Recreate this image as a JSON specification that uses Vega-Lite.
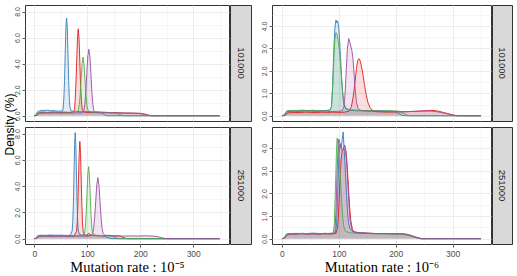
{
  "$schema": "https://vega.github.io/schema/vega-lite/v6.json",
  "padding": {"left": 3, "top": 4, "right": 0, "bottom": 0},
  "background": "white",
  "config": {
    "view": {"stroke": "#333333", "strokeWidth": 1},
    "axis": {
      "domain": false,
      "labelFont": "Liberation Sans",
      "labelColor": "#4d4d4d",
      "tickColor": "#333333",
      "tickSize": 3,
      "tickWidth": 0.8,
      "labelPadding": 2,
      "gridColor": "#ebebeb",
      "titleFontWeight": "normal",
      "titleColor": "#000000"
    }
  },
  "datasets": {
    "TL": [
      {"s":"A","x":0,"y":0},{"s":"A","x":4,"y":0.03},{"s":"A","x":8,"y":0.22},{"s":"A","x":15,"y":0.26},{"s":"A","x":25,"y":0.24},{"s":"A","x":35,"y":0.27},{"s":"A","x":45,"y":0.25},{"s":"A","x":55,"y":0.26},{"s":"A","x":65,"y":0.24},{"s":"A","x":72,"y":0.26},{"s":"A","x":76,"y":0.45},{"s":"A","x":77,"y":1.1},{"s":"A","x":78.5,"y":2.3},{"s":"A","x":80,"y":4.1},{"s":"A","x":81.5,"y":5.9},{"s":"A","x":83,"y":6.67},{"s":"A","x":84.5,"y":5.9},{"s":"A","x":86,"y":4.1},{"s":"A","x":87.5,"y":2.3},{"s":"A","x":89,"y":1.1},{"s":"A","x":90.5,"y":0.5},{"s":"A","x":93,"y":0.28},{"s":"A","x":100,"y":0.25},{"s":"A","x":110,"y":0.24},{"s":"A","x":125,"y":0.26},{"s":"A","x":140,"y":0.22},{"s":"A","x":155,"y":0.24},{"s":"A","x":170,"y":0.2},{"s":"A","x":185,"y":0.2},{"s":"A","x":200,"y":0.16},{"s":"A","x":208,"y":0.1},{"s":"A","x":215,"y":0.02},{"s":"A","x":220,"y":0},{"s":"A","x":350,"y":0},
      {"s":"B","x":0,"y":0},{"s":"B","x":3,"y":0.05},{"s":"B","x":6,"y":0.3},{"s":"B","x":10,"y":0.38},{"s":"B","x":15,"y":0.42},{"s":"B","x":20,"y":0.4},{"s":"B","x":25,"y":0.43},{"s":"B","x":30,"y":0.38},{"s":"B","x":35,"y":0.4},{"s":"B","x":40,"y":0.37},{"s":"B","x":45,"y":0.36},{"s":"B","x":50,"y":0.35},{"s":"B","x":54,"y":0.4},{"s":"B","x":55.8,"y":1.3},{"s":"B","x":57.1,"y":2.7},{"s":"B","x":58.4,"y":4.8},{"s":"B","x":59.7,"y":6.8},{"s":"B","x":61,"y":7.5},{"s":"B","x":62.3,"y":6.8},{"s":"B","x":63.6,"y":4.8},{"s":"B","x":64.9,"y":2.7},{"s":"B","x":66.2,"y":1.3},{"s":"B","x":67.5,"y":0.6},{"s":"B","x":69,"y":0.4},{"s":"B","x":72,"y":0.35},{"s":"B","x":80,"y":0.33},{"s":"B","x":90,"y":0.3},{"s":"B","x":100,"y":0.32},{"s":"B","x":110,"y":0.28},{"s":"B","x":120,"y":0.3},{"s":"B","x":127,"y":0.25},{"s":"B","x":132,"y":0.08},{"s":"B","x":136,"y":0},{"s":"B","x":350,"y":0},
      {"s":"C","x":0,"y":0},{"s":"C","x":4,"y":0.04},{"s":"C","x":7,"y":0.25},{"s":"C","x":15,"y":0.3},{"s":"C","x":25,"y":0.27},{"s":"C","x":35,"y":0.3},{"s":"C","x":45,"y":0.28},{"s":"C","x":55,"y":0.29},{"s":"C","x":65,"y":0.27},{"s":"C","x":75,"y":0.3},{"s":"C","x":82,"y":0.3},{"s":"C","x":83.3,"y":0.48},{"s":"C","x":85,"y":0.87},{"s":"C","x":86.8,"y":1.67},{"s":"C","x":88.5,"y":2.85},{"s":"C","x":90.3,"y":4.0},{"s":"C","x":92,"y":4.5},{"s":"C","x":93.8,"y":4.0},{"s":"C","x":95.5,"y":2.85},{"s":"C","x":97.3,"y":1.67},{"s":"C","x":99,"y":0.87},{"s":"C","x":100.8,"y":0.48},{"s":"C","x":103,"y":0.32},{"s":"C","x":110,"y":0.3},{"s":"C","x":120,"y":0.27},{"s":"C","x":130,"y":0.28},{"s":"C","x":140,"y":0.25},{"s":"C","x":150,"y":0.22},{"s":"C","x":158,"y":0.15},{"s":"C","x":165,"y":0.04},{"s":"C","x":170,"y":0},{"s":"C","x":350,"y":0},
      {"s":"D","x":0,"y":0},{"s":"D","x":5,"y":0.02},{"s":"D","x":10,"y":0.18},{"s":"D","x":20,"y":0.21},{"s":"D","x":30,"y":0.2},{"s":"D","x":40,"y":0.22},{"s":"D","x":50,"y":0.2},{"s":"D","x":60,"y":0.21},{"s":"D","x":70,"y":0.2},{"s":"D","x":80,"y":0.22},{"s":"D","x":90,"y":0.23},{"s":"D","x":93.5,"y":0.38},{"s":"D","x":95.4,"y":0.86},{"s":"D","x":97.3,"y":1.8},{"s":"D","x":99.2,"y":3.3},{"s":"D","x":101.1,"y":4.6},{"s":"D","x":103,"y":5.1},{"s":"D","x":104.9,"y":4.6},{"s":"D","x":106.8,"y":3.3},{"s":"D","x":108.7,"y":1.8},{"s":"D","x":110.6,"y":0.86},{"s":"D","x":112.5,"y":0.38},{"s":"D","x":116,"y":0.24},{"s":"D","x":125,"y":0.22},{"s":"D","x":140,"y":0.23},{"s":"D","x":155,"y":0.22},{"s":"D","x":170,"y":0.21},{"s":"D","x":185,"y":0.2},{"s":"D","x":200,"y":0.19},{"s":"D","x":208,"y":0.14},{"s":"D","x":215,"y":0.06},{"s":"D","x":222,"y":0},{"s":"D","x":350,"y":0}
    ],
    "BL": [
      {"s":"A","x":0,"y":0},{"s":"A","x":4,"y":0.03},{"s":"A","x":8,"y":0.2},{"s":"A","x":15,"y":0.22},{"s":"A","x":25,"y":0.24},{"s":"A","x":35,"y":0.2},{"s":"A","x":45,"y":0.23},{"s":"A","x":55,"y":0.22},{"s":"A","x":65,"y":0.21},{"s":"A","x":75,"y":0.23},{"s":"A","x":79.8,"y":0.55},{"s":"A","x":81,"y":1.2},{"s":"A","x":82.3,"y":2.6},{"s":"A","x":83.5,"y":4.6},{"s":"A","x":84.8,"y":6.55},{"s":"A","x":86,"y":7.4},{"s":"A","x":87.3,"y":6.55},{"s":"A","x":88.5,"y":4.6},{"s":"A","x":89.8,"y":2.6},{"s":"A","x":91,"y":1.2},{"s":"A","x":92.3,"y":0.55},{"s":"A","x":95,"y":0.3},{"s":"A","x":98,"y":0.25},{"s":"A","x":103,"y":0.4},{"s":"A","x":108,"y":0.25},{"s":"A","x":120,"y":0.22},{"s":"A","x":135,"y":0.24},{"s":"A","x":150,"y":0.2},{"s":"A","x":160,"y":0.22},{"s":"A","x":165,"y":0.15},{"s":"A","x":172,"y":0.03},{"s":"A","x":176,"y":0},{"s":"A","x":350,"y":0},
      {"s":"B","x":0,"y":0},{"s":"B","x":3,"y":0.03},{"s":"B","x":6,"y":0.22},{"s":"B","x":12,"y":0.27},{"s":"B","x":20,"y":0.25},{"s":"B","x":30,"y":0.28},{"s":"B","x":40,"y":0.26},{"s":"B","x":50,"y":0.27},{"s":"B","x":60,"y":0.25},{"s":"B","x":68,"y":0.26},{"s":"B","x":71.5,"y":0.6},{"s":"B","x":72.7,"y":1.3},{"s":"B","x":73.9,"y":2.8},{"s":"B","x":75,"y":5.0},{"s":"B","x":76.2,"y":7.15},{"s":"B","x":77.3,"y":8.08},{"s":"B","x":78.4,"y":7.15},{"s":"B","x":79.6,"y":5.0},{"s":"B","x":80.8,"y":2.8},{"s":"B","x":81.9,"y":1.3},{"s":"B","x":83,"y":0.6},{"s":"B","x":86,"y":0.3},{"s":"B","x":95,"y":0.26},{"s":"B","x":105,"y":0.24},{"s":"B","x":115,"y":0.25},{"s":"B","x":125,"y":0.22},{"s":"B","x":133,"y":0.18},{"s":"B","x":140,"y":0.06},{"s":"B","x":145,"y":0},{"s":"B","x":350,"y":0},
      {"s":"C","x":0,"y":0},{"s":"C","x":4,"y":0.03},{"s":"C","x":8,"y":0.2},{"s":"C","x":15,"y":0.23},{"s":"C","x":25,"y":0.21},{"s":"C","x":35,"y":0.24},{"s":"C","x":45,"y":0.22},{"s":"C","x":55,"y":0.23},{"s":"C","x":65,"y":0.21},{"s":"C","x":75,"y":0.22},{"s":"C","x":85,"y":0.24},{"s":"C","x":92,"y":0.25},{"s":"C","x":95,"y":0.45},{"s":"C","x":96.5,"y":0.93},{"s":"C","x":98,"y":1.93},{"s":"C","x":99.5,"y":3.41},{"s":"C","x":101,"y":4.86},{"s":"C","x":102.5,"y":5.48},{"s":"C","x":104,"y":4.86},{"s":"C","x":105.5,"y":3.41},{"s":"C","x":107,"y":1.93},{"s":"C","x":108.5,"y":0.93},{"s":"C","x":110,"y":0.45},{"s":"C","x":113,"y":0.28},{"s":"C","x":120,"y":0.25},{"s":"C","x":130,"y":0.24},{"s":"C","x":140,"y":0.22},{"s":"C","x":148,"y":0.18},{"s":"C","x":155,"y":0.05},{"s":"C","x":160,"y":0},{"s":"C","x":350,"y":0},
      {"s":"D","x":0,"y":0},{"s":"D","x":5,"y":0.02},{"s":"D","x":10,"y":0.17},{"s":"D","x":20,"y":0.19},{"s":"D","x":30,"y":0.18},{"s":"D","x":40,"y":0.2},{"s":"D","x":50,"y":0.18},{"s":"D","x":60,"y":0.19},{"s":"D","x":70,"y":0.18},{"s":"D","x":80,"y":0.2},{"s":"D","x":90,"y":0.19},{"s":"D","x":100,"y":0.2},{"s":"D","x":106,"y":0.22},{"s":"D","x":110,"y":0.38},{"s":"D","x":112,"y":0.78},{"s":"D","x":114,"y":1.63},{"s":"D","x":116,"y":2.89},{"s":"D","x":118,"y":4.11},{"s":"D","x":120,"y":4.64},{"s":"D","x":122,"y":4.11},{"s":"D","x":124,"y":2.89},{"s":"D","x":126,"y":1.63},{"s":"D","x":128,"y":0.78},{"s":"D","x":130,"y":0.38},{"s":"D","x":134,"y":0.25},{"s":"D","x":140,"y":0.26},{"s":"D","x":150,"y":0.22},{"s":"D","x":165,"y":0.2},{"s":"D","x":180,"y":0.21},{"s":"D","x":195,"y":0.2},{"s":"D","x":210,"y":0.22},{"s":"D","x":222,"y":0.2},{"s":"D","x":232,"y":0.16},{"s":"D","x":240,"y":0.08},{"s":"D","x":248,"y":0.01},{"s":"D","x":252,"y":0},{"s":"D","x":350,"y":0}
    ],
    "TR": [
      {"s":"A","x":0,"y":0},{"s":"A","x":5,"y":0.01},{"s":"A","x":10,"y":0.12},{"s":"A","x":20,"y":0.15},{"s":"A","x":30,"y":0.14},{"s":"A","x":40,"y":0.16},{"s":"A","x":50,"y":0.15},{"s":"A","x":60,"y":0.14},{"s":"A","x":70,"y":0.16},{"s":"A","x":80,"y":0.15},{"s":"A","x":90,"y":0.16},{"s":"A","x":100,"y":0.15},{"s":"A","x":110,"y":0.16},{"s":"A","x":118,"y":0.2},{"s":"A","x":122,"y":0.4},{"s":"A","x":125,"y":0.8},{"s":"A","x":128,"y":1.4},{"s":"A","x":131,"y":2.1},{"s":"A","x":133,"y":2.45},{"s":"A","x":135,"y":2.54},{"s":"A","x":137,"y":2.48},{"s":"A","x":139,"y":2.3},{"s":"A","x":142,"y":1.9},{"s":"A","x":145,"y":1.4},{"s":"A","x":148,"y":0.95},{"s":"A","x":151,"y":0.6},{"s":"A","x":155,"y":0.35},{"s":"A","x":160,"y":0.22},{"s":"A","x":165,"y":0.18},{"s":"A","x":175,"y":0.17},{"s":"A","x":190,"y":0.16},{"s":"A","x":205,"y":0.17},{"s":"A","x":220,"y":0.18},{"s":"A","x":235,"y":0.2},{"s":"A","x":250,"y":0.22},{"s":"A","x":262,"y":0.24},{"s":"A","x":272,"y":0.22},{"s":"A","x":282,"y":0.16},{"s":"A","x":292,"y":0.09},{"s":"A","x":300,"y":0.04},{"s":"A","x":308,"y":0},{"s":"A","x":350,"y":0},
      {"s":"B","x":0,"y":0},{"s":"B","x":4,"y":0.03},{"s":"B","x":8,"y":0.2},{"s":"B","x":15,"y":0.23},{"s":"B","x":25,"y":0.22},{"s":"B","x":35,"y":0.25},{"s":"B","x":45,"y":0.23},{"s":"B","x":55,"y":0.24},{"s":"B","x":65,"y":0.22},{"s":"B","x":75,"y":0.23},{"s":"B","x":84,"y":0.24},{"s":"B","x":87,"y":0.4},{"s":"B","x":89,"y":1.3},{"s":"B","x":91,"y":2.8},{"s":"B","x":93,"y":3.9},{"s":"B","x":95,"y":4.27},{"s":"B","x":96.5,"y":4.15},{"s":"B","x":98,"y":4.22},{"s":"B","x":99.5,"y":4.0},{"s":"B","x":101,"y":3.5},{"s":"B","x":103,"y":2.6},{"s":"B","x":105,"y":1.6},{"s":"B","x":107,"y":0.9},{"s":"B","x":109,"y":0.5},{"s":"B","x":112,"y":0.3},{"s":"B","x":118,"y":0.25},{"s":"B","x":130,"y":0.22},{"s":"B","x":145,"y":0.23},{"s":"B","x":160,"y":0.21},{"s":"B","x":175,"y":0.22},{"s":"B","x":190,"y":0.2},{"s":"B","x":200,"y":0.18},{"s":"B","x":206,"y":0.1},{"s":"B","x":211,"y":0.02},{"s":"B","x":215,"y":0},{"s":"B","x":350,"y":0},
      {"s":"C","x":0,"y":0},{"s":"C","x":4,"y":0.03},{"s":"C","x":8,"y":0.2},{"s":"C","x":15,"y":0.22},{"s":"C","x":25,"y":0.24},{"s":"C","x":35,"y":0.22},{"s":"C","x":45,"y":0.23},{"s":"C","x":55,"y":0.24},{"s":"C","x":65,"y":0.22},{"s":"C","x":75,"y":0.23},{"s":"C","x":84,"y":0.25},{"s":"C","x":87,"y":0.4},{"s":"C","x":89,"y":1.2},{"s":"C","x":91,"y":2.4},{"s":"C","x":93,"y":3.4},{"s":"C","x":95,"y":3.7},{"s":"C","x":97,"y":3.6},{"s":"C","x":99,"y":3.3},{"s":"C","x":101,"y":2.9},{"s":"C","x":103,"y":2.3},{"s":"C","x":105,"y":1.6},{"s":"C","x":107,"y":1.0},{"s":"C","x":109,"y":0.55},{"s":"C","x":112,"y":0.35},{"s":"C","x":118,"y":0.28},{"s":"C","x":130,"y":0.25},{"s":"C","x":145,"y":0.22},{"s":"C","x":160,"y":0.24},{"s":"C","x":175,"y":0.21},{"s":"C","x":190,"y":0.22},{"s":"C","x":205,"y":0.2},{"s":"C","x":213,"y":0.12},{"s":"C","x":220,"y":0.03},{"s":"C","x":224,"y":0},{"s":"C","x":350,"y":0},
      {"s":"D","x":0,"y":0},{"s":"D","x":5,"y":0.02},{"s":"D","x":10,"y":0.18},{"s":"D","x":20,"y":0.2},{"s":"D","x":30,"y":0.19},{"s":"D","x":40,"y":0.21},{"s":"D","x":50,"y":0.2},{"s":"D","x":60,"y":0.19},{"s":"D","x":70,"y":0.21},{"s":"D","x":80,"y":0.2},{"s":"D","x":90,"y":0.19},{"s":"D","x":100,"y":0.2},{"s":"D","x":106,"y":0.22},{"s":"D","x":109,"y":0.4},{"s":"D","x":111,"y":1.0},{"s":"D","x":113,"y":2.0},{"s":"D","x":115,"y":3.0},{"s":"D","x":117.5,"y":3.44},{"s":"D","x":119,"y":3.3},{"s":"D","x":121,"y":3.1},{"s":"D","x":123,"y":2.9},{"s":"D","x":125,"y":2.5},{"s":"D","x":127,"y":1.8},{"s":"D","x":129,"y":1.1},{"s":"D","x":131,"y":0.6},{"s":"D","x":134,"y":0.3},{"s":"D","x":140,"y":0.22},{"s":"D","x":155,"y":0.2},{"s":"D","x":170,"y":0.21},{"s":"D","x":185,"y":0.19},{"s":"D","x":200,"y":0.2},{"s":"D","x":215,"y":0.18},{"s":"D","x":230,"y":0.19},{"s":"D","x":245,"y":0.2},{"s":"D","x":260,"y":0.21},{"s":"D","x":272,"y":0.18},{"s":"D","x":285,"y":0.12},{"s":"D","x":295,"y":0.06},{"s":"D","x":303,"y":0.01},{"s":"D","x":308,"y":0},{"s":"D","x":350,"y":0}
    ],
    "BR": [
      {"s":"A","x":0,"y":0},{"s":"A","x":4,"y":0.02},{"s":"A","x":8,"y":0.18},{"s":"A","x":15,"y":0.21},{"s":"A","x":25,"y":0.2},{"s":"A","x":35,"y":0.23},{"s":"A","x":45,"y":0.21},{"s":"A","x":55,"y":0.22},{"s":"A","x":65,"y":0.2},{"s":"A","x":75,"y":0.22},{"s":"A","x":85,"y":0.21},{"s":"A","x":95,"y":0.23},{"s":"A","x":98,"y":0.5},{"s":"A","x":100,"y":1.4},{"s":"A","x":102,"y":2.6},{"s":"A","x":104,"y":3.5},{"s":"A","x":106,"y":3.9},{"s":"A","x":108,"y":4.0},{"s":"A","x":110.5,"y":4.13},{"s":"A","x":113,"y":3.8},{"s":"A","x":115,"y":3.1},{"s":"A","x":117,"y":2.2},{"s":"A","x":119,"y":1.4},{"s":"A","x":121,"y":0.8},{"s":"A","x":124,"y":0.4},{"s":"A","x":128,"y":0.3},{"s":"A","x":135,"y":0.27},{"s":"A","x":150,"y":0.25},{"s":"A","x":165,"y":0.23},{"s":"A","x":180,"y":0.22},{"s":"A","x":195,"y":0.23},{"s":"A","x":210,"y":0.21},{"s":"A","x":222,"y":0.17},{"s":"A","x":232,"y":0.09},{"s":"A","x":240,"y":0.03},{"s":"A","x":246,"y":0},{"s":"A","x":350,"y":0},
      {"s":"B","x":0,"y":0},{"s":"B","x":4,"y":0.03},{"s":"B","x":8,"y":0.2},{"s":"B","x":15,"y":0.23},{"s":"B","x":25,"y":0.21},{"s":"B","x":35,"y":0.24},{"s":"B","x":45,"y":0.22},{"s":"B","x":55,"y":0.23},{"s":"B","x":65,"y":0.21},{"s":"B","x":75,"y":0.24},{"s":"B","x":85,"y":0.22},{"s":"B","x":94,"y":0.25},{"s":"B","x":96,"y":0.6},{"s":"B","x":98,"y":2.0},{"s":"B","x":100,"y":3.6},{"s":"B","x":102,"y":4.2},{"s":"B","x":104,"y":4.0},{"s":"B","x":106,"y":4.4},{"s":"B","x":107.6,"y":4.72},{"s":"B","x":109,"y":4.1},{"s":"B","x":111,"y":3.2},{"s":"B","x":113,"y":2.2},{"s":"B","x":115,"y":1.3},{"s":"B","x":117,"y":0.7},{"s":"B","x":120,"y":0.4},{"s":"B","x":125,"y":0.3},{"s":"B","x":135,"y":0.25},{"s":"B","x":150,"y":0.24},{"s":"B","x":165,"y":0.22},{"s":"B","x":180,"y":0.23},{"s":"B","x":195,"y":0.21},{"s":"B","x":210,"y":0.22},{"s":"B","x":220,"y":0.18},{"s":"B","x":230,"y":0.1},{"s":"B","x":238,"y":0.03},{"s":"B","x":243,"y":0},{"s":"B","x":350,"y":0},
      {"s":"C","x":0,"y":0},{"s":"C","x":4,"y":0.03},{"s":"C","x":8,"y":0.2},{"s":"C","x":15,"y":0.22},{"s":"C","x":25,"y":0.24},{"s":"C","x":35,"y":0.22},{"s":"C","x":45,"y":0.23},{"s":"C","x":55,"y":0.25},{"s":"C","x":65,"y":0.23},{"s":"C","x":75,"y":0.22},{"s":"C","x":85,"y":0.24},{"s":"C","x":90,"y":0.26},{"s":"C","x":92,"y":0.6},{"s":"C","x":94,"y":2.2},{"s":"C","x":96,"y":4.0},{"s":"C","x":97,"y":4.44},{"s":"C","x":99,"y":4.1},{"s":"C","x":101,"y":3.5},{"s":"C","x":103,"y":2.6},{"s":"C","x":105,"y":1.6},{"s":"C","x":107,"y":0.9},{"s":"C","x":109,"y":0.5},{"s":"C","x":112,"y":0.32},{"s":"C","x":120,"y":0.26},{"s":"C","x":135,"y":0.24},{"s":"C","x":150,"y":0.23},{"s":"C","x":165,"y":0.22},{"s":"C","x":180,"y":0.21},{"s":"C","x":195,"y":0.22},{"s":"C","x":210,"y":0.2},{"s":"C","x":222,"y":0.15},{"s":"C","x":232,"y":0.07},{"s":"C","x":240,"y":0.02},{"s":"C","x":244,"y":0},{"s":"C","x":350,"y":0},
      {"s":"D","x":0,"y":0},{"s":"D","x":5,"y":0.02},{"s":"D","x":10,"y":0.18},{"s":"D","x":20,"y":0.2},{"s":"D","x":30,"y":0.22},{"s":"D","x":40,"y":0.2},{"s":"D","x":50,"y":0.21},{"s":"D","x":60,"y":0.2},{"s":"D","x":70,"y":0.22},{"s":"D","x":80,"y":0.21},{"s":"D","x":90,"y":0.22},{"s":"D","x":93,"y":0.3},{"s":"D","x":95,"y":1.2},{"s":"D","x":97,"y":3.0},{"s":"D","x":99,"y":4.2},{"s":"D","x":100,"y":4.4},{"s":"D","x":102,"y":4.2},{"s":"D","x":104,"y":4.0},{"s":"D","x":106,"y":3.9},{"s":"D","x":108,"y":3.95},{"s":"D","x":110,"y":3.9},{"s":"D","x":112,"y":3.85},{"s":"D","x":114,"y":3.3},{"s":"D","x":116,"y":2.4},{"s":"D","x":118,"y":1.5},{"s":"D","x":120,"y":0.8},{"s":"D","x":123,"y":0.4},{"s":"D","x":127,"y":0.28},{"s":"D","x":135,"y":0.25},{"s":"D","x":150,"y":0.23},{"s":"D","x":165,"y":0.22},{"s":"D","x":180,"y":0.23},{"s":"D","x":195,"y":0.21},{"s":"D","x":210,"y":0.22},{"s":"D","x":220,"y":0.2},{"s":"D","x":230,"y":0.12},{"s":"D","x":238,"y":0.05},{"s":"D","x":245,"y":0},{"s":"D","x":350,"y":0}
    ]
  },
  "hconcat": [
    {
      "hconcat": [
        {
          "width": 14, "height": 239,
          "view": {"stroke": null},
          "data": {"values": [{"t": "Density (%)"}]},
          "mark": {"type": "text", "angle": 270, "font": "Liberation Sans", "fontSize": 12, "color": "#000000"},
          "encoding": {"text": {"field": "t"}}
        },
        {
          "vconcat": [
            {
              "hconcat": [
                {
                  "width": 204, "height": 116,
                  "data": {"name": "TL"},
                  "encoding": {
                    "x": {"field": "x", "type": "quantitative", "scale": {"domain": [-17.5, 367.5], "nice": false, "zero": false},
                      "axis": {"values": [0, 50, 100, 150, 200, 250, 300, 350], "labels": false, "ticks": false, "title": null,
                        "gridWidth": {"condition": {"test": "datum.value % 100 === 0", "value": 0.9}, "value": 0.45}}},
                    "y": {"field": "y", "type": "quantitative", "stack": null, "scale": {"domain": [-0.405, 8.5], "nice": false, "zero": false},
                      "axis": {"values": [0, 1, 2, 3, 4, 5, 6, 7, 8], "labelAngle": 270, "labelFontSize": 7,
                        "labelExpr": "datum.value % 2 === 0 ? format(datum.value, '.1f') : ''",
                        "tickOpacity": {"condition": {"test": "datum.value % 2 === 0", "value": 1}, "value": 0},
                        "gridWidth": {"condition": {"test": "datum.value % 2 === 0", "value": 0.9}, "value": 0.45},
                        "title": null}},
                    "color": {"field": "s", "type": "nominal", "legend": null,
                      "scale": {"domain": ["A", "B", "C", "D"], "range": ["#E41A1C", "#377EB8", "#4DAF4A", "#984EA3"]}}
                  },
                  "layer": [
                    {"mark": {"type": "area", "opacity": 0.15}},
                    {"mark": {"type": "line", "strokeWidth": 0.9}}
                  ]
                },
                {
                  "width": 21, "height": 116,
                  "view": {"fill": "#d9d9d9", "stroke": "#333333"},
                  "data": {"values": [{"n": "101000"}]},
                  "mark": {"type": "text", "angle": 90, "font": "Liberation Sans", "fontSize": 9.5, "color": "#1a1a1a"},
                  "encoding": {"text": {"field": "n"}}
                }
              ],
              "spacing": -4
            },
            {
              "hconcat": [
                {
                  "width": 204, "height": 117,
                  "data": {"name": "BL"},
                  "encoding": {
                    "x": {"field": "x", "type": "quantitative", "scale": {"domain": [-17.5, 367.5], "nice": false, "zero": false},
                      "axis": {"values": [0, 50, 100, 150, 200, 250, 300, 350], "labelFontSize": 8.5,
                        "labelExpr": "datum.value % 100 === 0 ? datum.label : ''",
                        "tickOpacity": {"condition": {"test": "datum.value % 100 === 0", "value": 1}, "value": 0},
                        "gridWidth": {"condition": {"test": "datum.value % 100 === 0", "value": 0.9}, "value": 0.45},
                        "title": "Mutation rate : 10⁻⁵", "titleFont": "Liberation Serif", "titleFontSize": 14.5, "titlePadding": 3}},
                    "y": {"field": "y", "type": "quantitative", "stack": null, "scale": {"domain": [-0.405, 8.5], "nice": false, "zero": false},
                      "axis": {"values": [0, 1, 2, 3, 4, 5, 6, 7, 8], "labelAngle": 270, "labelFontSize": 7,
                        "labelExpr": "datum.value % 2 === 0 ? format(datum.value, '.1f') : ''",
                        "tickOpacity": {"condition": {"test": "datum.value % 2 === 0", "value": 1}, "value": 0},
                        "gridWidth": {"condition": {"test": "datum.value % 2 === 0", "value": 0.9}, "value": 0.45},
                        "title": null}},
                    "color": {"field": "s", "type": "nominal", "legend": null,
                      "scale": {"domain": ["A", "B", "C", "D"], "range": ["#E41A1C", "#377EB8", "#4DAF4A", "#984EA3"]}}
                  },
                  "layer": [
                    {"mark": {"type": "area", "opacity": 0.15}},
                    {"mark": {"type": "line", "strokeWidth": 0.9}}
                  ]
                },
                {
                  "width": 21, "height": 117,
                  "view": {"fill": "#d9d9d9", "stroke": "#333333"},
                  "data": {"values": [{"n": "251000"}]},
                  "mark": {"type": "text", "angle": 90, "font": "Liberation Sans", "fontSize": 9.5, "color": "#1a1a1a"},
                  "encoding": {"text": {"field": "n"}}
                }
              ],
              "spacing": -4
            }
          ],
          "spacing": 4
        }
      ],
      "spacing": -5
    },
    {
      "vconcat": [
        {
          "hconcat": [
            {
              "width": 219, "height": 116,
              "data": {"name": "TR"},
              "encoding": {
                "x": {"field": "x", "type": "quantitative", "scale": {"domain": [-17.5, 367.5], "nice": false, "zero": false},
                  "axis": {"values": [0, 50, 100, 150, 200, 250, 300, 350], "labels": false, "ticks": false, "title": null,
                    "gridWidth": {"condition": {"test": "datum.value % 100 === 0", "value": 0.9}, "value": 0.45}}},
                "y": {"field": "y", "type": "quantitative", "stack": null, "scale": {"domain": [-0.235, 4.935], "nice": false, "zero": false},
                  "axis": {"values": [0, 0.5, 1, 1.5, 2, 2.5, 3, 3.5, 4, 4.5], "labelAngle": 270, "labelFontSize": 7,
                    "labelExpr": "datum.value % 1 === 0 ? format(datum.value, '.1f') : ''",
                    "tickOpacity": {"condition": {"test": "datum.value % 1 === 0", "value": 1}, "value": 0},
                    "gridWidth": {"condition": {"test": "datum.value % 1 === 0", "value": 0.9}, "value": 0.45},
                    "title": null}},
                "color": {"field": "s", "type": "nominal", "legend": null,
                  "scale": {"domain": ["A", "B", "C", "D"], "range": ["#E41A1C", "#377EB8", "#4DAF4A", "#984EA3"]}}
              },
              "layer": [
                {"mark": {"type": "area", "opacity": 0.15}},
                {"mark": {"type": "line", "strokeWidth": 0.9}}
              ]
            },
            {
              "width": 20, "height": 116,
              "view": {"fill": "#d9d9d9", "stroke": "#333333"},
              "data": {"values": [{"n": "101000"}]},
              "mark": {"type": "text", "angle": 90, "font": "Liberation Sans", "fontSize": 9.5, "color": "#1a1a1a"},
              "encoding": {"text": {"field": "n"}}
            }
          ],
          "spacing": -4
        },
        {
          "hconcat": [
            {
              "width": 219, "height": 117,
              "data": {"name": "BR"},
              "encoding": {
                "x": {"field": "x", "type": "quantitative", "scale": {"domain": [-17.5, 367.5], "nice": false, "zero": false},
                  "axis": {"values": [0, 50, 100, 150, 200, 250, 300, 350], "labelFontSize": 8.5,
                    "labelExpr": "datum.value % 100 === 0 ? datum.label : ''",
                    "tickOpacity": {"condition": {"test": "datum.value % 100 === 0", "value": 1}, "value": 0},
                    "gridWidth": {"condition": {"test": "datum.value % 100 === 0", "value": 0.9}, "value": 0.45},
                    "title": "Mutation rate : 10⁻⁶", "titleFont": "Liberation Serif", "titleFontSize": 14.5, "titlePadding": 3}},
                "y": {"field": "y", "type": "quantitative", "stack": null, "scale": {"domain": [-0.235, 4.935], "nice": false, "zero": false},
                  "axis": {"values": [0, 0.5, 1, 1.5, 2, 2.5, 3, 3.5, 4, 4.5], "labelAngle": 270, "labelFontSize": 7,
                    "labelExpr": "datum.value % 1 === 0 ? format(datum.value, '.1f') : ''",
                    "tickOpacity": {"condition": {"test": "datum.value % 1 === 0", "value": 1}, "value": 0},
                    "gridWidth": {"condition": {"test": "datum.value % 1 === 0", "value": 0.9}, "value": 0.45},
                    "title": null}},
                "color": {"field": "s", "type": "nominal", "legend": null,
                  "scale": {"domain": ["A", "B", "C", "D"], "range": ["#E41A1C", "#377EB8", "#4DAF4A", "#984EA3"]}}
              },
              "layer": [
                {"mark": {"type": "area", "opacity": 0.15}},
                {"mark": {"type": "line", "strokeWidth": 0.9}}
              ]
            },
            {
              "width": 20, "height": 117,
              "view": {"fill": "#d9d9d9", "stroke": "#333333"},
              "data": {"values": [{"n": "251000"}]},
              "mark": {"type": "text", "angle": 90, "font": "Liberation Sans", "fontSize": 9.5, "color": "#1a1a1a"},
              "encoding": {"text": {"field": "n"}}
            }
          ],
          "spacing": -4
        }
      ],
      "spacing": 4
    }
  ],
  "spacing": 7
}
